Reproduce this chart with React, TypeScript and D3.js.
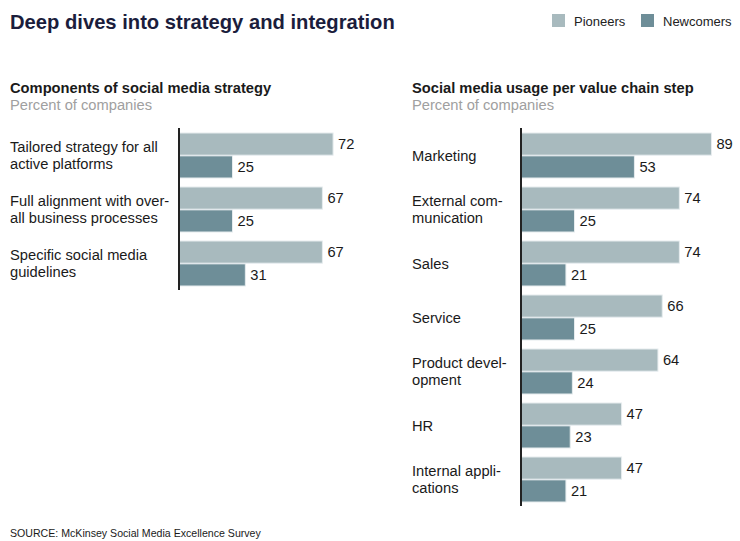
import React, { useEffect, useRef } from "react";
import * as d3 from "d3";

const series = ["Pioneers", "Newcomers"];
const colors = ["#a8babe", "#6e8e98"];

const strategyLabels = [
  ["Tailored strategy for all", "active platforms"],
  ["Full alignment with over-", "all business processes"],
  ["Specific social media", "guidelines"],
];
const strategyPioneers = [72, 67, 67];
const strategyNewcomers = [25, 25, 31];

const usageLabels = [
  ["Marketing"],
  ["External com-", "munication"],
  ["Sales"],
  ["Service"],
  ["Product devel-", "opment"],
  ["HR"],
  ["Internal appli-", "cations"],
];
const usagePioneers = [89, 74, 74, 66, 64, 47, 47];
const usageNewcomers = [53, 25, 21, 25, 24, 23, 21];

const width = 740;
const height = 541;
const font = "Liberation Sans, Arial, Helvetica, sans-serif";
const fs = 14.7;

const App = () => {
  const svgRef = useRef<SVGSVGElement>(null);

  useEffect(() => {
    const svg = d3.select(svgRef.current);
    svg.selectAll("*").remove();
    svg.attr("width", width).attr("height", height).style("font-family", font);

    svg.append("rect").attr("width", width).attr("height", height).attr("fill", "#fff");

    // Title
    svg
      .append("text")
      .attr("x", 10)
      .attr("y", 29)
      .attr("font-size", 20.2)
      .attr("font-weight", "bold")
      .attr("fill", "#1b1d3c")
      .text("Deep dives into strategy and integration");

    // Legend
    const legend = svg.append("g");
    const legendX = [552, 641];
    series.forEach((s, i) => {
      legend
        .append("rect")
        .attr("x", legendX[i])
        .attr("y", 14)
        .attr("width", 13)
        .attr("height", 13)
        .attr("fill", colors[i]);
      legend
        .append("text")
        .attr("x", legendX[i] + 22)
        .attr("y", 26)
        .attr("font-size", 13)
        .attr("fill", "#222")
        .text(s);
    });

    const x = d3.scaleLinear().domain([0, 100]).range([0, 214]);
    const step = 54;
    const padInner = 9 / step;

    const drawPanel = (
      left: number,
      axisX: number,
      title: string,
      labels: string[][],
      pioneers: number[],
      newcomers: number[]
    ) => {
      const g = svg.append("g");
      g.append("text")
        .attr("x", left)
        .attr("y", 93)
        .attr("font-size", fs)
        .attr("font-weight", "bold")
        .attr("fill", "#1a1a1a")
        .text(title);
      g.append("text")
        .attr("x", left)
        .attr("y", 110)
        .attr("font-size", fs)
        .attr("fill", "#a0a0a0")
        .text("Percent of companies");

      const n = labels.length;
      const y = d3
        .scaleBand<number>()
        .domain(d3.range(n))
        .range([133, 133 + step * (n - padInner)])
        .paddingInner(padInner)
        .paddingOuter(0);
      const ySub = d3
        .scaleBand<string>()
        .domain(series)
        .range([0, y.bandwidth()])
        .paddingInner(0.03);

      const rows = d3.range(n).map((i) => ({
        i,
        label: labels[i],
        values: [pioneers[i], newcomers[i]],
      }));

      const groups = g
        .selectAll("g.row")
        .data(rows)
        .enter()
        .append("g")
        .attr("class", "row")
        .attr("transform", (d) => `translate(0,${y(d.i)})`);

      groups
        .selectAll("rect")
        .data((d) => d.values.map((v, k) => ({ v, k })))
        .enter()
        .append("rect")
        .attr("x", axisX)
        .attr("y", (d) => ySub(series[d.k])!)
        .attr("width", (d) => x(d.v))
        .attr("height", ySub.bandwidth())
        .attr("fill", (d) => colors[d.k])
        .attr("stroke", "#e6ecee")
        .attr("stroke-width", 1);

      groups
        .selectAll("text.val")
        .data((d) => d.values.map((v, k) => ({ v, k })))
        .enter()
        .append("text")
        .attr("class", "val")
        .attr("x", (d) => axisX + x(d.v) + 5)
        .attr("y", (d) => ySub(series[d.k])! + ySub.bandwidth() / 2 + 5)
        .attr("font-size", fs)
        .attr("fill", "#1a1a1a")
        .text((d) => d.v);

      const center = y.bandwidth() / 2;
      groups.each(function (d) {
        const t = d3
          .select(this)
          .append("text")
          .attr("font-size", fs)
          .attr("fill", "#1a1a1a");
        const lh = 17;
        const first = center + 5 - ((d.label.length - 1) * lh) / 2;
        d.label.forEach((line, j) => {
          t.append("tspan")
            .attr("x", left)
            .attr("y", first + j * lh)
            .text(line);
        });
      });

      g.append("line")
        .attr("x1", axisX)
        .attr("x2", axisX)
        .attr("y1", 128)
        .attr("y2", 133 + step * (n - padInner) + 4)
        .attr("stroke", "#222")
        .attr("stroke-width", 2);
    };

    drawPanel(
      10,
      179,
      "Components of social media strategy",
      strategyLabels,
      strategyPioneers,
      strategyNewcomers
    );
    drawPanel(
      412,
      521,
      "Social media usage per value chain step",
      usageLabels,
      usagePioneers,
      usageNewcomers
    );

    svg
      .append("text")
      .attr("x", 10)
      .attr("y", 537)
      .attr("font-size", 10.6)
      .attr("fill", "#1a1a1a")
      .text("SOURCE: McKinsey Social Media Excellence Survey");
  }, []);

  return <svg ref={svgRef} style={{ position: "absolute", left: 0, top: 0 }}></svg>;
};

export default App;
